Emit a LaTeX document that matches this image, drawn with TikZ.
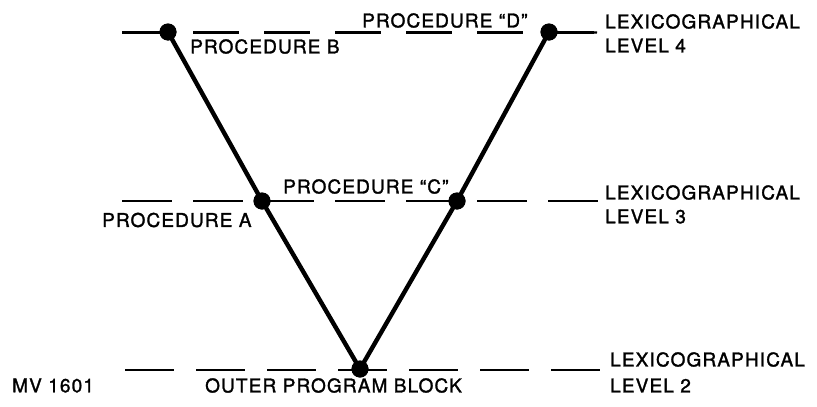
\documentclass[tikz,border=0pt]{standalone}
\usepackage{fontspec}
\setmainfont{TeX Gyre Heros}[LetterSpace=6,FakeBold=1.5]
\begin{document}
\begin{tikzpicture}[x=1pt,y=-1pt,
  lbl/.style={anchor=west,inner sep=0pt,font=\fontsize{19}{22}\selectfont},
  dot/.style={circle,fill=black,inner sep=0pt,minimum size=17pt},
  level/.style={line width=2.2pt},
  path/.style={line width=4.4pt}]
\useasboundingbox (0,0) rectangle (817,407);
% nodes
\node[dot] (B) at (168,32) {};
\node[dot] (D) at (549,32) {};
\node[dot] (A) at (262,201) {};
\node[dot] (C) at (457,201) {};
\node[dot] (O) at (360,369) {};
% level line ends
\coordinate (L4l) at (122,32.5);
\coordinate (L4r) at (597,32.5);
\coordinate (L3l) at (122,201);
\coordinate (L3r) at (600,201);
\coordinate (L2l) at (125,370);
\coordinate (L2r) at (602,370);
% dashed levels
\draw[level,dash pattern=on 46pt off 25pt] (L4l) -- (L4r);
\draw[level] (D.center) -- (L4r);
\draw[level,dash pattern=on 50pt off 21pt] (L3l) -- (L3r);
\draw[level,dash pattern=on 49pt off 22pt] (L2l) -- (L2r);
% main path
\draw[path,line join=round] (B.center) -- (A.center) -- (O.center) -- (C.center) -- (D.center);
\node[dot] at (B) {};
\node[dot] at (D) {};
\node[dot] at (A) {};
\node[dot] at (C) {};
\node[dot] at (O) {};
% labels
\node[lbl] (tB) at (190,46.5) {PROCEDURE B};
\node[lbl] (tD) at (362,20.5) {PROCEDURE “D”};
\node[lbl] (t4a) at (605,21.5) {LEXICOGRAPHICAL};
\node[lbl] (t4b) at (605,45.5) {LEVEL 4};
\node[lbl] (tA) at (102,220) {PROCEDURE A};
\node[lbl] (tC) at (283,186.5) {PROCEDURE “C”};
\node[lbl] (t3a) at (605,192.5) {LEXICOGRAPHICAL};
\node[lbl] (t3b) at (605,216.5) {LEVEL 3};
\node[lbl] (t2a) at (610,359.5) {LEXICOGRAPHICAL};
\node[lbl] (t2b) at (610,385.5) {LEVEL 2};
\node[lbl] (tMV) at (12,385.5) {MV 1601};
\node[lbl] (tO) at (205,385.5) {OUTER PROGRAM BLOCK};
\end{tikzpicture}
\end{document}
